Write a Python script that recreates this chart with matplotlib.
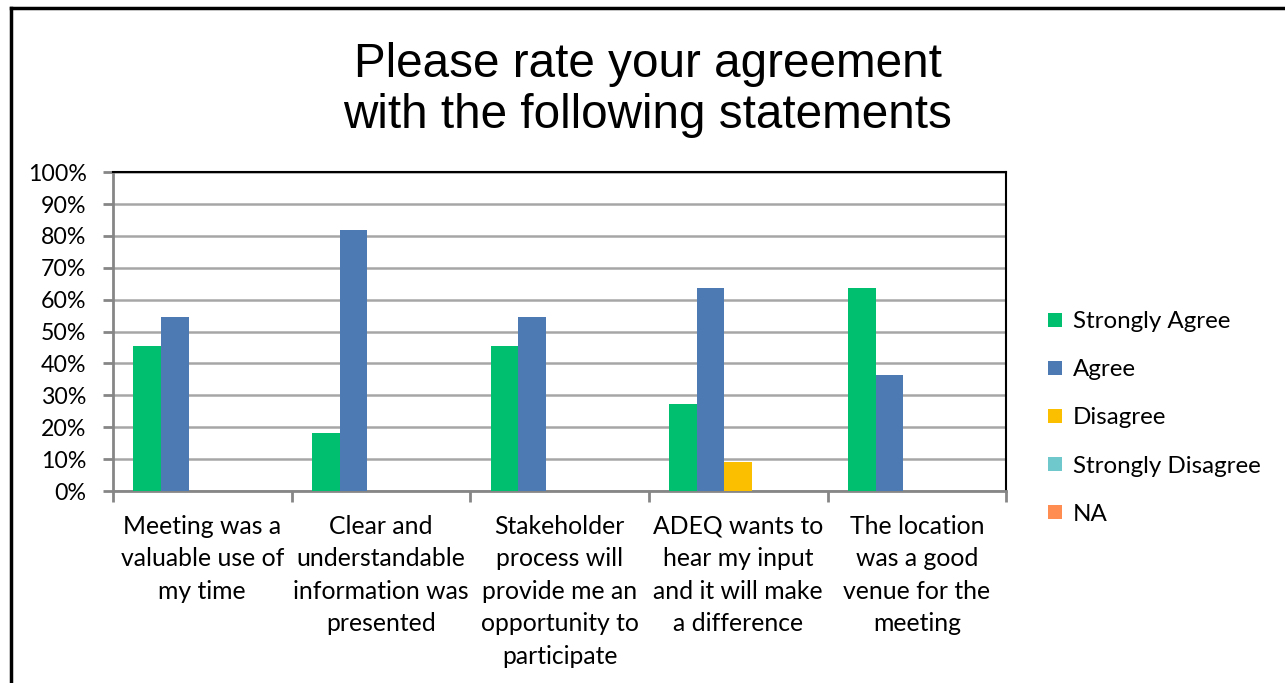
import numpy as np
import matplotlib
matplotlib.use("Agg")
import matplotlib.pyplot as plt
from matplotlib.ticker import PercentFormatter, FixedLocator

categories = [
    "Meeting was a\nvaluable use of\nmy time",
    "Clear and\nunderstandable\ninformation was\npresented",
    "Stakeholder\nprocess will\nprovide me an\nopportunity to\nparticipate",
    "ADEQ wants to\nhear my input\nand it will make\na difference",
    "The location\nwas a good\nvenue for the\nmeeting",
]
series = ["Strongly Agree", "Agree", "Disagree", "Strongly Disagree", "NA"]
strongly_agree = [45.45, 18.18, 45.45, 27.27, 63.64]
agree = [54.55, 81.82, 54.55, 63.64, 36.36]
disagree = [0, 0, 0, 9.09, 0]
strongly_disagree = [0, 0, 0, 0, 0]
na = [0, 0, 0, 0, 0]
colors = ["#00BF6F", "#4E7AB4", "#FBBF00", "#6FC9CC", "#FF8C50"]

values = [strongly_agree, agree, disagree, strongly_disagree, na]

fig = plt.figure(figsize=(12.85, 6.83), dpi=100)
ax = fig.add_axes([0.0879, 0.281, 0.6951, 0.467])

x = np.arange(len(categories))
w = 0.154
for i, (name, vals) in enumerate(zip(series, values)):
    ax.bar(x - 2 * w + i * w, vals, w, color=colors[i], label=name, zorder=3)

ax.set_xlim(-0.5, len(categories) - 0.5)
ax.set_ylim(0, 100)
ax.set_yticks(np.arange(0, 101, 10))
ax.yaxis.set_major_formatter(PercentFormatter(decimals=0))
ax.yaxis.grid(True, color="#A6A6A6", linewidth=1.8, zorder=0)
ax.set_axisbelow(True)

ax.set_xticks(x)
ax.set_xticklabels(categories, fontsize=17.8, family="Lato", linespacing=1.5)
ax.xaxis.set_minor_locator(FixedLocator(np.arange(-0.5, len(categories), 1)))
ax.tick_params(axis="x", which="major", length=0, pad=17)
ax.tick_params(axis="x", which="minor", length=8, width=2, color="#868686")
ax.tick_params(axis="y", length=7, width=2, color="#868686", labelsize=16.7, pad=12)
for lab in ax.get_yticklabels():
    lab.set_family("Lato")

for s in ["top", "right"]:
    ax.spines[s].set_color("black")
    ax.spines[s].set_linewidth(1.5)
for s in ["left", "bottom"]:
    ax.spines[s].set_color("#868686")
    ax.spines[s].set_linewidth(2)

leg = fig.legend(loc="upper left", bbox_to_anchor=(0.799, 0.576), frameon=False,
                 prop={"family": "Lato", "size": 17.4}, handlelength=0.55, handleheight=0.55,
                 handletextpad=0.45, labelspacing=1.12)

fig.text(0.504, 0.868, "Please rate your agreement\nwith the following statements",
         ha="center", va="center", fontsize=34.3, family="Liberation Sans", linespacing=1.18)

# outer chart border
fig.add_artist(plt.Line2D([0.0086, 0.0086], [0, 0.988], color="black", lw=2.5, transform=fig.transFigure))
fig.add_artist(plt.Line2D([0.0086, 1.0], [0.988, 0.988], color="black", lw=2.5, transform=fig.transFigure))

fig.savefig("out.png", dpi=100)
